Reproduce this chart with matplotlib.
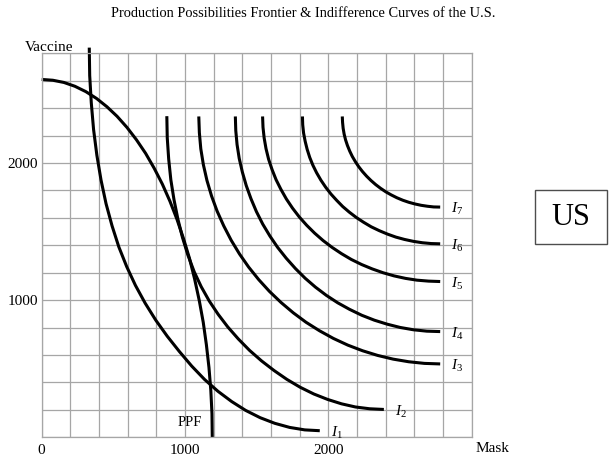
import matplotlib
matplotlib.use("Agg")
import matplotlib.pyplot as plt
from matplotlib.ticker import MultipleLocator, FixedLocator
from matplotlib.patches import Rectangle

# ---------------- data ----------------
title = "Production Possibilities Frontier & Indifference Curves of the U.S."
x_label = "Mask"
y_label = "Vaccine"
country = "US"

x_ticks = [0, 1000, 2000]
y_ticks = [1000, 2000]

ppf_mask = [0, 78, 155, 232, 308, 383, 455, 526, 595, 661, 725, 785, 842, 895, 944,
            989, 1031, 1067, 1099, 1127, 1149, 1167, 1180, 1188, 1190]
ppf_vaccine = [2610, 2604, 2588, 2560, 2521, 2471, 2411, 2341, 2260, 2170, 2071, 1962,
               1846, 1721, 1589, 1450, 1305, 1154, 999, 839, 675, 509, 341, 171, 0]

i1_mask = [332, 335, 346, 362, 385, 414, 449, 491, 538, 593, 654, 722, 796, 876, 961,
           1047, 1136, 1229, 1325, 1423, 1524, 1626, 1730, 1835, 1940]
i1_vaccine = [2842, 2638, 2440, 2245, 2057, 1876, 1704, 1542, 1389, 1245, 1108, 978,
              854, 737, 625, 519, 422, 336, 261, 196, 143, 102, 72, 54, 48]

i2_mask = [873, 876, 886, 901, 923, 950, 982, 1020, 1064, 1113, 1169, 1231, 1298, 1372,
           1450, 1534, 1621, 1711, 1803, 1898, 1995, 2092, 2189, 2288, 2387]
i2_vaccine = [2342, 2184, 2029, 1878, 1733, 1592, 1458, 1329, 1207, 1098, 994, 897, 805,
              717, 634, 557, 487, 422, 365, 316, 276, 244, 221, 208, 203]

i3_mask = [1096, 1100, 1110, 1128, 1153, 1185, 1224, 1270, 1322, 1380, 1444, 1514, 1589,
           1670, 1755, 1844, 1938, 2035, 2136, 2239, 2344, 2452, 2560, 2670, 2780]
i3_vaccine = [2340, 2222, 2104, 1988, 1873, 1760, 1649, 1542, 1437, 1337, 1241, 1150, 1064,
              983, 908, 839, 777, 721, 672, 631, 597, 570, 551, 539, 535]

i4_mask = [1351, 1354, 1363, 1378, 1400, 1427, 1460, 1498, 1542, 1592, 1646, 1706, 1770,
           1838, 1910, 1986, 2065, 2148, 2233, 2321, 2410, 2501, 2594, 2687, 2780]
i4_vaccine = [2340, 2237, 2135, 2034, 1934, 1836, 1740, 1646, 1555, 1468, 1385, 1306, 1231,
              1160, 1095, 1035, 981, 933, 890, 854, 825, 801, 784, 774, 771]

i5_mask = [1541, 1544, 1552, 1565, 1583, 1607, 1635, 1669, 1707, 1750, 1797, 1849, 1904,
           1963, 2026, 2092, 2160, 2232, 2306, 2382, 2459, 2538, 2618, 2699, 2780]
i5_vaccine = [2340, 2261, 2183, 2105, 2028, 1953, 1879, 1808, 1738, 1671, 1607, 1546, 1489,
              1435, 1385, 1339, 1297, 1260, 1228, 1200, 1177, 1159, 1146, 1139, 1136]

i6_mask = [1819, 1821, 1827, 1838, 1852, 1870, 1892, 1918, 1948, 1981, 2018, 2058, 2100,
           2146, 2195, 2246, 2299, 2355, 2412, 2471, 2531, 2593, 2655, 2717, 2780]
i6_vaccine = [2340, 2279, 2219, 2159, 2100, 2041, 1984, 1929, 1875, 1824, 1774, 1728, 1683,
              1642, 1603, 1568, 1535, 1507, 1482, 1460, 1443, 1429, 1419, 1413, 1411]

i7_mask = [2097, 2099, 2103, 2110, 2120, 2133, 2149, 2167, 2189, 2212, 2238, 2267, 2297,
           2330, 2364, 2401, 2438, 2478, 2519, 2561, 2603, 2647, 2691, 2735, 2780]
i7_vaccine = [2340, 2297, 2254, 2211, 2169, 2128, 2087, 2048, 2009, 1973, 1938, 1904, 1873,
              1843, 1816, 1790, 1768, 1747, 1729, 1714, 1702, 1692, 1685, 1680, 1679]

ic_names = ["1", "2", "3", "4", "5", "6", "7"]

# ---------------- styling ----------------
plt.rcParams["font.family"] = ["Liberation Serif", "DejaVu Serif"]
plt.rcParams["mathtext.fontset"] = "custom"
plt.rcParams["mathtext.rm"] = "Liberation Serif"
plt.rcParams["mathtext.it"] = "Liberation Serif:italic"

fig = plt.figure(figsize=(6.12, 4.59), dpi=100)
ax = fig.add_axes([0.0681, 0.0473, 0.7027, 0.8364])
ax.set_xlim(0, 3000)
ax.set_ylim(0, 2800)

grid_c = "#a6a6a6"
ax.xaxis.set_major_locator(FixedLocator(x_ticks))
ax.yaxis.set_major_locator(FixedLocator(y_ticks))
ax.xaxis.set_minor_locator(MultipleLocator(200))
ax.yaxis.set_minor_locator(MultipleLocator(200))
ax.grid(True, which="both", color=grid_c, linewidth=0.9)
ax.set_axisbelow(True)
for s in ax.spines.values():
    s.set_color(grid_c)
    s.set_linewidth(0.9)
ax.tick_params(which="both", length=0)
ax.tick_params(axis="x", pad=4.5, labelsize=11)
ax.tick_params(axis="y", pad=2.5, labelsize=11)

lw = 2.2
ax.plot(ppf_mask, ppf_vaccine, color="black", lw=lw, clip_on=False,
        solid_capstyle="butt", solid_joinstyle="round")

curves = [(i1_mask, i1_vaccine), (i2_mask, i2_vaccine), (i3_mask, i3_vaccine),
          (i4_mask, i4_vaccine), (i5_mask, i5_vaccine), (i6_mask, i6_vaccine),
          (i7_mask, i7_vaccine)]
for (xs, ys), name in zip(curves, ic_names):
    ax.plot(xs, ys, color="black", lw=lw, clip_on=False,
            solid_capstyle="butt", solid_joinstyle="round")
    ax.annotate(r"$I_{\mathit{" + name + "}}$", xy=(xs[-1], ys[-1]),
                xytext=(8, -1.5), textcoords="offset points",
                ha="left", va="center", fontsize=11, annotation_clip=False)

ax.annotate("PPF", xy=(ppf_mask[-1], ppf_vaccine[-1]), xytext=(-7.5, 10.5),
            textcoords="offset points", ha="right", va="center", fontsize=10.5,
            annotation_clip=False)

ax.text(-0.04, 1.007, y_label, transform=ax.transAxes, ha="left", va="baseline",
        fontsize=11)
ax.text(1.008, -0.028, x_label, transform=ax.transAxes, ha="left", va="center",
        fontsize=11)

fig.text(0.496, 1 - 13.5 / 459, title, ha="center", va="center", fontsize=10.4)

fig.patches.append(Rectangle((0.874, 0.4684), 0.118, 0.1176, transform=fig.transFigure,
                             fill=False, edgecolor="#4d4d4d", linewidth=1.0))
fig.text(0.933, 0.527, country, ha="center", va="center", fontsize=22)

fig.savefig("out.png", dpi=100)
